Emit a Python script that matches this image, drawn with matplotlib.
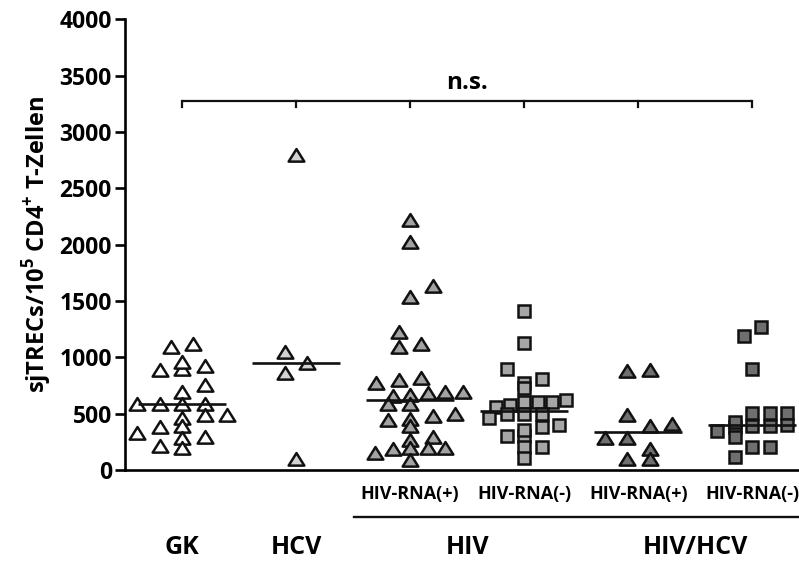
import numpy as np
import matplotlib
matplotlib.use("Agg")
import matplotlib.pyplot as plt
from matplotlib.path import Path

plt.rcParams['font.family'] = ['Open Sans', 'DejaVu Sans']
plt.rcParams['font.weight'] = 'bold'
plt.rcParams['mathtext.fontset'] = 'custom'
plt.rcParams['mathtext.rm'] = 'Open Sans:bold'
plt.rcParams['mathtext.bf'] = 'Open Sans:bold'

# sjTREC counts per 10^5 CD4+ T cells, one list per cohort
gk = [1095, 1120, 925, 890, 895, 960, 755, 695, 590, 590, 590, 590,
      490, 460, 490, 390, 385, 280, 325, 295, 195, 215]
hcv = [2800, 1050, 950, 860, 95]
hiv_rna_pos = [2220, 2020, 1635, 1535, 1225, 1095, 1120, 800, 815, 770,
               695, 655, 680, 665, 695, 590, 590, 495, 450, 480, 390, 440,
               295, 270, 195, 185, 195, 155, 195, 90]
hiv_rna_neg = [1415, 1125, 895, 775, 805, 725, 575, 620, 600, 600, 600, 560,
               495, 495, 495, 460, 385, 400, 305, 305, 355, 205, 205, 105]
coinf_rna_pos = [875, 890, 490, 410, 390, 280, 280, 185, 95, 95]
coinf_rna_neg = [1265, 1185, 895, 385, 505, 505, 505, 350, 400, 430, 390,
                 390, 290, 200, 200, 115]

groups = [gk, hcv, hiv_rna_pos, hiv_rna_neg, coinf_rna_pos, coinf_rna_neg]
sub_labels = ['HIV-RNA(+)', 'HIV-RNA(-)', 'HIV-RNA(+)', 'HIV-RNA(-)']
main_labels = ['GK', 'HCV', 'HIV', 'HIV/HCV']
y_ticks = [0, 500, 1000, 1500, 2000, 2500, 3000, 3500, 4000]
sig_label = 'n.s.'

# marker styles per column
tri = Path([(-1, -0.78), (1, -0.78), (0, 0.82), (-1, -0.78)],
           [Path.MOVETO, Path.LINETO, Path.LINETO, Path.CLOSEPOLY])
markers = [tri, tri, tri, 's', tri, 's']
sizes = [11.3, 11.3, 11.3, 8.8, 11.3, 8.8]
faces = ['#ffffff', '#d2d2d2', '#a3a3a3', '#a6a6a6', '#707070', '#6f6f6f']

W, H = 799, 561
fig = plt.figure(figsize=(W / 100, H / 100), dpi=100)
ax = fig.add_axes([125 / W, (H - 470) / H, (798 - 125) / W, (470 - 19.3) / H])
ax.set_xlim(0.5, 6.4)
ax.set_ylim(0, 4000)

for s in ['top', 'right']:
    ax.spines[s].set_visible(False)
for s in ['left', 'bottom']:
    ax.spines[s].set_linewidth(1.9)
    ax.spines[s].set_capstyle('projecting')
ax.set_xticks([])
ax.set_yticks(y_ticks)
ax.tick_params(axis='y', direction='out', length=7.5, width=1.9, pad=2,
               labelsize=16.5)
for t in ax.get_yticklabels():
    t.set_fontweight('bold')

ax.set_ylabel('sjTRECs/10$^{5}$ CD4$^{+}$ T-Zellen', fontsize=17,
              fontweight='bold', labelpad=4)

fig.canvas.draw()
to_px = ax.transData
px_per_x = to_px.transform((2, 0))[0] - to_px.transform((1, 0))[0]
y0_px = to_px.transform((1, 0))[1]


def column_scatter(values, xc, spacing, mark_w, mark_h, row_h=12.0,
                   max_span=70.0):
    """Bin points into rows of similar value and spread each row sideways;
    each row takes the sideways shift that overlaps the rows below least."""
    ys = to_px.transform(np.column_stack([np.full(len(values), xc),
                                          values]))[:, 1]
    rows = np.floor((ys - y0_px) / row_h).astype(int)
    offs = np.zeros(len(values))
    placed = []
    for r in np.unique(rows):
        idx = np.where(rows == r)[0]
        idx = idx[np.argsort(values[idx])]
        n = len(idx)
        sp = min(spacing, max_span / (n - 1)) if n > 1 else spacing
        base = (np.arange(n) - (n - 1) / 2) * sp
        best, best_cost = base, None
        for shift in (0.0, sp / 2, -sp / 2, sp, -sp):
            cand = base + shift
            cost = sum(1 for o, y in zip(cand, ys[idx]) for po, py in placed
                       if abs(o - po) < mark_w and abs(y - py) < mark_h)
            cost += abs(shift) / (4 * sp)
            if best_cost is None or cost < best_cost:
                best, best_cost = cand, cost
        offs[idx] = best
        placed += list(zip(best, ys[idx]))
    return xc + offs / px_per_x


for gi, vals in enumerate(groups):
    xc = gi + 1
    vals = np.array(vals, float)
    if markers[gi] == 's':
        xs = column_scatter(vals, xc, 17.5, 14, 14)
    else:
        xs = column_scatter(vals, xc, 22.5, 15, 13)
    ax.plot(xs, vals, linestyle='none', marker=markers[gi],
            markersize=sizes[gi], markerfacecolor=faces[gi],
            markeredgecolor='#111111', markeredgewidth=1.8,
            clip_on=False, zorder=3)
    med = np.median(vals)
    ax.plot([xc - 0.385, xc + 0.385], [med, med], color='#111111',
            linewidth=1.9, zorder=4, solid_capstyle='butt')

# significance bracket over all columns
y_br, y_tk = 3275, 3225
ax.plot([1, 6], [y_br, y_br], color='#111111', linewidth=1.6,
        solid_capstyle='butt')
for xc in range(1, 7):
    ax.plot([xc, xc], [y_br, y_tk], color='#111111', linewidth=1.6)
ax.text(3.5, y_br + 50, sig_label, ha='center', va='bottom', fontsize=17.5,
        fontweight='bold')

# sub-group labels and grouping rule below the axis
for i, lab in enumerate(sub_labels):
    fig.text(ax.transData.transform((i + 3, 0))[0] / W, (H - 494) / H, lab,
             ha='center', va='center', fontsize=13, fontweight='bold')
fig.add_artist(plt.Line2D([354 / W, 1.0], [(H - 516.7) / H] * 2,
                          color='#111111', linewidth=1.7))
main_x = [1, 2, 3.5, 5.5]
for xm, lab in zip(main_x, main_labels):
    fig.text(ax.transData.transform((xm, 0))[0] / W, (H - 547) / H, lab,
             ha='center', va='center', fontsize=18, fontweight='bold')

fig.savefig('out.png', dpi=100)
